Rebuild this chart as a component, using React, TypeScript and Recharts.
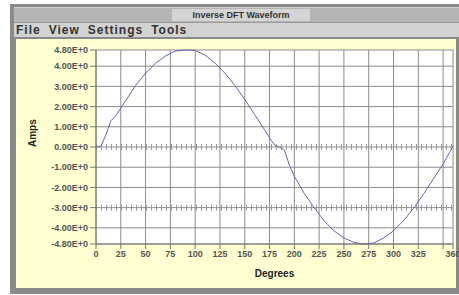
import { LineChart, Line, XAxis, YAxis, CartesianGrid, ReferenceLine, Label } from 'recharts'

// waveform samples (degrees / amps)
const degrees = [0, 5, 10, 15, 20, 30, 40, 50, 60, 70, 80, 90, 100, 110, 120, 130, 140, 150, 160, 170, 175, 180, 185, 190, 195, 200, 210, 220, 230, 240, 250, 260, 270, 280, 290, 300, 310, 320, 330, 340, 350, 360]
const amps = [0, 0.05, 0.6, 1.3, 1.55, 2.3, 3.05, 3.65, 4.15, 4.5, 4.75, 4.8, 4.78, 4.55, 4.15, 3.65, 3.05, 2.35, 1.6, 0.85, 0.45, 0.1, 0, -0.15, -0.9, -1.45, -2.3, -3.0, -3.65, -4.15, -4.5, -4.72, -4.8, -4.75, -4.5, -4.15, -3.65, -3.05, -2.35, -1.6, -0.85, 0.05]

const xTicks = [0, 25, 50, 75, 100, 125, 150, 175, 200, 225, 250, 275, 300, 325, 350, 360]
const hiddenXLabels = [350]
const yTicks = [-4.8, -4, -3, -2, -1, 0, 1, 2, 3, 4, 4.8]
const markerRows = [0, -3]
const menuItems = ['File', 'View', 'Settings', 'Tools']

const data = degrees.map((d, i) => ({ deg: d, amp: amps[i] }))

const tickFont = { fontSize: 9, fill: '#555', fontFamily: 'Liberation Sans', fontWeight: 'bold' as const }
const axisTitle = { fontSize: 10, fontWeight: 'bold' as const, fill: '#222', fontFamily: 'Liberation Sans' }

export default function App() {
  return (
    <div style={{ position: 'absolute', left: 0, top: 0, width: 459, height: 295, background: '#fff', overflow: 'hidden', fontFamily: 'Liberation Sans' }}>
      {/* window frame */}
      <div style={{ position: 'absolute', left: 10, top: 4, width: 449, height: 290, background: '#8a8a8a' }} />
      {/* title bar */}
      <div style={{ position: 'absolute', left: 14, top: 7, width: 445, height: 14, background: '#b4b4b4', borderTop: '1px solid #d0d0d0', borderBottom: '1px solid #9a9a9a' }} />
      <div style={{ position: 'absolute', left: 172, top: 9, width: 138, height: 12, background: '#d4d4d4', fontSize: 9, fontWeight: 'bold', color: '#333', textAlign: 'center', lineHeight: '12px' }}>Inverse DFT Waveform</div>
      {/* menu bar */}
      <div style={{ position: 'absolute', left: 14, top: 23, width: 445, height: 14, background: '#d2d2d2', borderBottom: '1px solid #8a8a8a', display: 'flex', gap: 8, paddingLeft: 2, fontSize: 12, letterSpacing: 1, fontWeight: 'bold', color: '#333', lineHeight: '14px' }}>
        {menuItems.map(m => <span key={m}>{m}</span>)}
      </div>
      {/* yellow panel */}
      <div style={{ position: 'absolute', left: 16, top: 39, width: 440, height: 249, background: '#ffffd2' }} />
      <div style={{ position: 'absolute', left: 0, top: 0 }}>
        <LineChart width={459} height={295} data={data} margin={{ top: 50, right: 6, bottom: 21, left: 16 }}>
          <CartesianGrid fill="#fff" stroke="#8c8c8c" strokeWidth={1} />
          <XAxis
            dataKey="deg"
            type="number"
            domain={[0, 360]}
            ticks={xTicks}
            interval={0}
            tick={tickFont}
            tickSize={5}
            stroke="#777"
            height={30}
            tickFormatter={v => (hiddenXLabels.includes(v) ? '' : String(v))}
          >
            <Label value="Degrees" position="insideBottom" offset={-3} style={axisTitle} />
          </XAxis>
          <YAxis
            type="number"
            domain={[-4.8, 4.8]}
            ticks={yTicks}
            interval={0}
            tick={tickFont}
            tickSize={6}
            stroke="#777"
            width={80}
            tickFormatter={v => v.toFixed(2) + 'E+0'}
          >
            <Label value="Amps" angle={-90} position="insideLeft" offset={16} style={axisTitle} />
          </YAxis>
          {markerRows.map(r => (
            <ReferenceLine key={r} y={r} stroke="#9a9a9a" strokeWidth={6} strokeDasharray="1 4" />
          ))}
          <Line dataKey="amp" type="linear" stroke="#6464b4" strokeWidth={1} dot={false} isAnimationActive={false} />
        </LineChart>
      </div>
    </div>
  )
}
